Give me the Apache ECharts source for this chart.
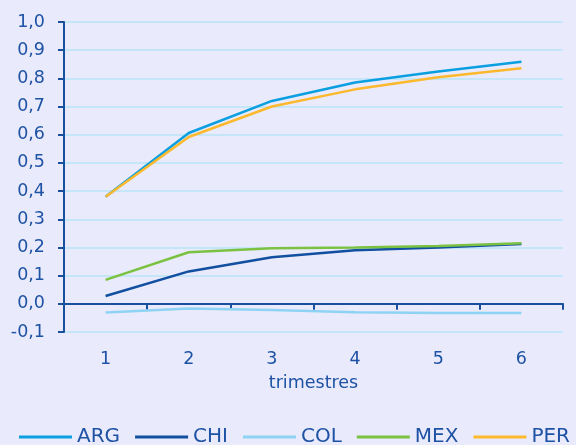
<!DOCTYPE html>
<html>
<head>
<meta charset="utf-8">
<script src="https://cdn.jsdelivr.net/npm/echarts@6/dist/echarts.min.js"></script>
<style>
  html, body { margin: 0; padding: 0; background: #e9eafb; }
  #chart { width: 576px; height: 445px; }
</style>
</head>
<body>
<div id="chart"></div>
<script>
// Quarters after the shock
const quarters = ['1', '2', '3', '4', '5', '6'];

// Cumulative response by country
const ARG = [0.38, 0.606, 0.72, 0.785, 0.824, 0.859];
const CHI = [0.028, 0.115, 0.165, 0.19, 0.2, 0.212];
const COL = [-0.031, -0.017, -0.022, -0.03, -0.033, -0.033];
const MEX = [0.085, 0.183, 0.197, 0.2, 0.205, 0.215];
const PER = [0.38, 0.592, 0.70, 0.761, 0.804, 0.836];

const seriesDefs = [
  { name: 'ARG', data: ARG, color: '#0a9fe0' },
  { name: 'CHI', data: CHI, color: '#114fa0' },
  { name: 'COL', data: COL, color: '#8ed3f4' },
  { name: 'MEX', data: MEX, color: '#7cc242' },
  { name: 'PER', data: PER, color: '#fdb92e' }
];

const textColor = '#1d52a4';
const axisColor = '#1a4f9e';
const fontFamily = 'DejaVu Sans, sans-serif';

const chart = echarts.init(document.getElementById('chart'));
chart.setOption({
  backgroundColor: '#e9eafb',
  animation: false,
  grid: { left: 64, right: 13, top: 22, bottom: 113 },
  xAxis: [
    {
      // axis line through zero with tick marks
      type: 'category',
      data: quarters,
      boundaryGap: true,
      axisLine: { onZero: true, lineStyle: { color: axisColor, width: 2 } },
      axisTick: { show: true, inside: false, length: 6, lineStyle: { color: axisColor, width: 2 } },
      axisLabel: { show: false },
      splitLine: { show: false }
    },
    {
      // category labels and title along the bottom
      type: 'category',
      data: quarters,
      position: 'bottom',
      boundaryGap: true,
      axisLine: { show: false, onZero: false },
      axisTick: { show: false },
      axisLabel: { color: textColor, fontSize: 17.5, fontFamily: fontFamily, margin: 18 },
      name: 'trimestres',
      nameLocation: 'middle',
      nameGap: 42,
      nameTextStyle: { color: textColor, fontSize: 17.5, fontFamily: fontFamily }
    }
  ],
  yAxis: {
    type: 'value',
    min: -0.1,
    max: 1.0,
    interval: 0.1,
    axisLine: { show: true, onZero: false, lineStyle: { color: axisColor, width: 2 } },
    axisTick: { show: true, length: 6, lineStyle: { color: axisColor, width: 2 } },
    axisLabel: {
      color: textColor,
      fontSize: 17.5,
      fontFamily: fontFamily,
      margin: 19,
      formatter: v => v.toFixed(1).replace('.', ',')
    },
    splitLine: { show: true, lineStyle: { color: '#b9e3f7', width: 1.5 } }
  },
  legend: {
    top: 427,
    left: 19,
    padding: 0,
    itemWidth: 53,
    itemHeight: 3,
    itemGap: 15,
    icon: 'rect',
    textStyle: { color: textColor, fontSize: 20, fontFamily: fontFamily },
    data: seriesDefs.map(s => s.name)
  },
  series: seriesDefs.map(s => ({
    name: s.name,
    type: 'line',
    xAxisIndex: 0,
    data: s.data,
    symbol: 'none',
    smooth: false,
    lineStyle: { color: s.color, width: 2.5 },
    itemStyle: { color: s.color }
  }))
});
</script>
</body>
</html>
